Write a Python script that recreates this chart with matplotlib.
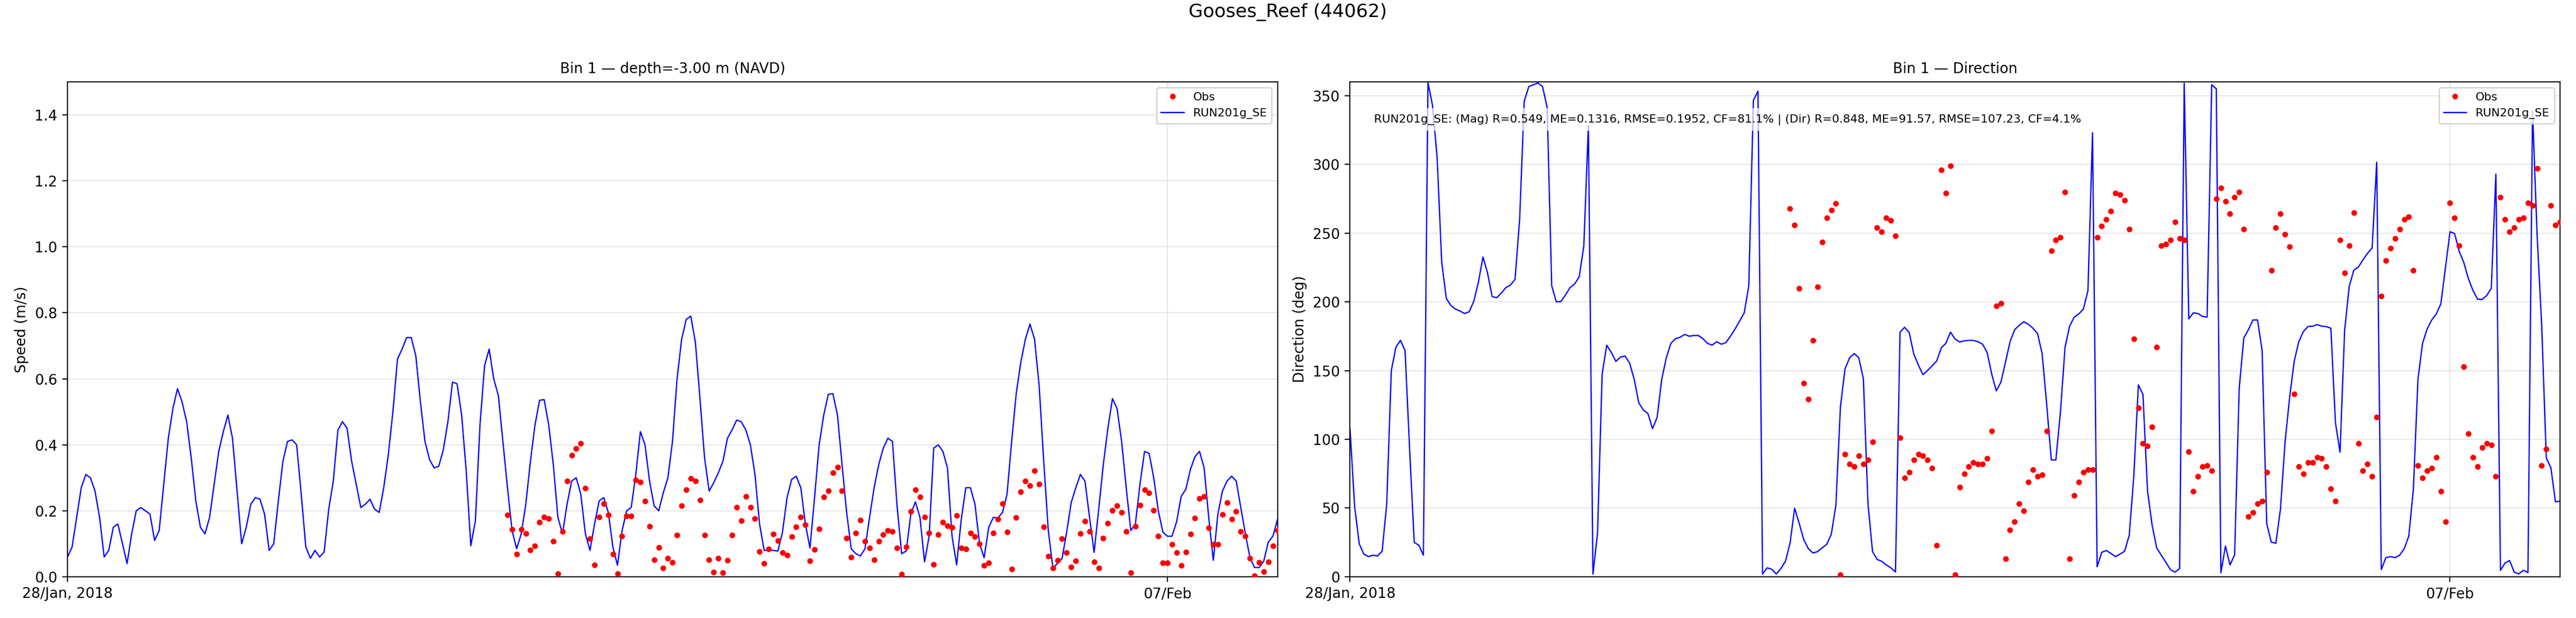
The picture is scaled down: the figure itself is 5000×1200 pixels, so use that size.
import pandas as pd
import matplotlib
matplotlib.use('Agg')
import matplotlib.pyplot as plt


station = 'Gooses_Reef (44062)'
model_name = 'RUN201g_SE'
model_start = '2018-01-28 00:00'
obs_start = '2018-02-01 00:00'
xlim_dates = ['2018-01-28', '2018-02-08']
tick_dates = ['2018-01-28', '2018-02-07']
tick_labels = ['28/Jan, 2018', '07/Feb']
stats_text = ('RUN201g_SE: (Mag) R=0.549, ME=0.1316, RMSE=0.1952, CF=81.1% | '
              '(Dir) R=0.848, ME=91.57, RMSE=107.23, CF=4.1%')

# hourly model speed (m/s)
model_speed = [
    0.06, 0.09, 0.18, 0.27, 0.31, 0.30, 0.26, 0.18, 0.06, 0.08,
    0.15, 0.16, 0.10, 0.04, 0.13, 0.20, 0.21, 0.20, 0.19, 0.11,
    0.14, 0.28, 0.42, 0.51, 0.57, 0.53, 0.47, 0.36, 0.23, 0.15,
    0.13, 0.18, 0.28, 0.38, 0.44, 0.49, 0.42, 0.26, 0.10, 0.15,
    0.22, 0.24, 0.235, 0.19, 0.08, 0.10, 0.23, 0.35, 0.41, 0.415,
    0.40, 0.25, 0.09, 0.056, 0.08, 0.06, 0.075, 0.205, 0.29, 0.445,
    0.47, 0.45, 0.35, 0.28, 0.21, 0.22, 0.235, 0.205, 0.195, 0.27,
    0.37, 0.50, 0.66, 0.69, 0.725, 0.725, 0.67, 0.53, 0.41, 0.355,
    0.33, 0.335, 0.385, 0.47, 0.59, 0.585, 0.49, 0.32, 0.094, 0.17,
    0.46, 0.64, 0.69, 0.60, 0.55, 0.41, 0.27, 0.14, 0.085, 0.13,
    0.22, 0.35, 0.46, 0.535, 0.537, 0.46, 0.34, 0.18, 0.13, 0.22,
    0.29, 0.30, 0.25, 0.13, 0.08, 0.16, 0.23, 0.24, 0.195, 0.09,
    0.035, 0.14, 0.20, 0.21, 0.31, 0.44, 0.40, 0.29, 0.215, 0.20,
    0.255, 0.30,
    0.41, 0.60, 0.72, 0.78, 0.79, 0.71, 0.54, 0.36, 0.26, 0.285,
    0.315, 0.35, 0.42, 0.445, 0.475, 0.47, 0.445, 0.40, 0.31, 0.16,
    0.08, 0.08, 0.08, 0.078, 0.135, 0.24, 0.295, 0.305, 0.27, 0.16,
    0.087, 0.24, 0.40, 0.49, 0.553, 0.555, 0.49, 0.34, 0.195, 0.085,
    0.07, 0.063, 0.085, 0.18, 0.27, 0.34, 0.39, 0.42, 0.41, 0.215,
    0.07, 0.078, 0.19, 0.227, 0.18, 0.045, 0.123, 0.39, 0.40, 0.38,
    0.33, 0.123, 0.036, 0.173, 0.27, 0.27, 0.22, 0.10, 0.058, 0.15,
    0.18, 0.178, 0.195, 0.25, 0.41, 0.555, 0.65, 0.72, 0.766, 0.72,
    0.58, 0.35, 0.14, 0.027, 0.04, 0.055, 0.135, 0.225, 0.27, 0.31,
    0.29, 0.18, 0.074, 0.205, 0.34, 0.45, 0.54, 0.51, 0.41, 0.27,
    0.14, 0.16, 0.28, 0.38, 0.374, 0.30, 0.20, 0.135, 0.123, 0.123,
    0.167, 0.244, 0.265, 0.325, 0.364, 0.38, 0.33, 0.18, 0.05, 0.19,
    0.26, 0.29, 0.305, 0.29, 0.21, 0.13, 0.058, 0.028, 0.028, 0.047,
    0.105, 0.123, 0.173,
]

# hourly model direction (deg)
model_dir = [
    107, 51, 24, 16.5, 14.7, 15.7, 15.2, 18.6, 53, 150,
    167, 172, 164.5, 92.5, 25, 23, 15.7, 359.5, 342.7, 304.7,
    228.7, 202.5, 197.3, 194.7, 193.3, 191.5, 192.8, 200.4, 214.3, 232.6,
    220.9, 203.8, 203, 206.4, 210.4, 212.2, 216.4, 260, 345.8, 356.6,
    357.9, 359.2, 356.6, 341.4, 211.7, 200, 200.2, 205, 210.4, 213,
    218.2, 240.5, 328.3, 2, 32, 147.5, 168.5, 163.2, 156.7, 159.8,
    160.6, 155.4, 143.6, 126.5, 121.3, 118.7, 107.7, 116, 143.6, 159.3,
    169.8, 173.2, 174.2, 176.3, 175, 175.5, 175.5, 173.2, 169.8, 168.5,
    171, 169.2, 170.3, 175, 180.2, 186, 192, 211.7, 346.6, 353.2,
    2, 6.5, 5.5, 2, 6, 11.3, 24.4, 49.8, 38.8, 27,
    20.4, 17.3, 18.3, 21, 23.6, 31, 51.9, 124, 151.4, 159.3,
    162.4, 159.3, 144, 53.2, 18.3, 12.6, 11.3, 8.6, 6.5, 3.5,
    178,
    181.5, 177.6, 162, 154, 147, 150, 153.5, 157, 166.6, 169.8,
    178, 173, 170.8, 171.6, 172, 171.9, 171, 169.2, 163.2, 147.5,
    135.2, 141.5, 156, 171, 179.7, 182.9, 185.5, 183.7, 180.8, 177,
    162.4, 125.2, 85, 85, 120, 167, 182.3, 188.9, 191.2, 194.7,
    208.3, 323, 7.3, 17.8, 19.1, 17, 14.7, 16.5, 18.6, 30.1,
    72.8, 139.6, 132.6, 62.4, 37.5, 21, 15.7, 10.5, 5.2, 3.4,
    6, 359, 187.6, 192, 191.5, 189.4, 188.9, 357.9, 355, 2.9,
    22.3, 8.6, 16, 137, 173.7, 179.7, 186.8, 186.8, 164.5, 38.8,
    25.2, 24.4, 49.3, 97.7, 130.5, 156.7, 171, 178.4, 182, 182.3,
    183.4, 182.3, 182, 180.8, 112, 90.6, 179, 211.2, 223, 225.3,
    230.5, 235.3, 239.2, 301.5, 5.2, 13.9, 14.7, 13.9, 15.7, 20.4,
    29.6, 63.7, 143.6, 169.8, 180.2, 186.8, 191.2, 198.6, 224.8, 251,
    249.7, 236.6, 228.7, 216.9, 208.3, 202, 201.7, 204.6, 209.8, 292.9,
    4.7, 10, 11.8, 3.4, 2.1, 4.7, 3.1, 338.7, 248.4, 182.9,
    86.5, 79.4, 54.5, 55,
]

# hourly observed speed (m/s), from 01 Feb
obs_speed = [
    0.187, 0.143, 0.069, 0.143, 0.131, 0.081, 0.094, 0.165, 0.181, 0.176,
    0.107, 0.009, 0.137, 0.29, 0.368, 0.389, 0.405, 0.269, 0.115, 0.036,
    0.181, 0.222, 0.187, 0.069, 0.009, 0.123, 0.184, 0.184, 0.293, 0.287,
    0.23, 0.153, 0.052, 0.089, 0.027, 0.056,
    0.044, 0.126, 0.216, 0.263, 0.298, 0.29, 0.233, 0.127, 0.052, 0.014,
    0.056, 0.012, 0.05, 0.127, 0.21, 0.17, 0.244, 0.21, 0.176, 0.077,
    0.04, 0.085, 0.129, 0.109, 0.074, 0.066, 0.122, 0.151, 0.181, 0.158,
    0.048, 0.083, 0.145, 0.242, 0.26, 0.315, 0.333, 0.261, 0.117, 0.06,
    0.133, 0.172, 0.107, 0.087, 0.052, 0.107, 0.128, 0.14, 0.138, 0.087,
    0.008, 0.091, 0.198, 0.263, 0.242, 0.181, 0.132, 0.037, 0.128, 0.165,
    0.154, 0.15, 0.186, 0.087, 0.084, 0.132, 0.121, 0.1, 0.034, 0.042,
    0.132, 0.174, 0.221, 0.135, 0.024, 0.179, 0.258, 0.29, 0.276, 0.322,
    0.281, 0.152, 0.062, 0.026, 0.05, 0.115, 0.074, 0.03, 0.048, 0.131,
    0.168, 0.137, 0.045, 0.027, 0.117, 0.162, 0.202, 0.216, 0.195, 0.137,
    0.013, 0.153, 0.217, 0.264, 0.254, 0.202, 0.123, 0.042, 0.042, 0.098,
    0.074, 0.034, 0.075, 0.129, 0.178, 0.237, 0.244, 0.148, 0.098, 0.098,
    0.189, 0.224, 0.174, 0.198, 0.137, 0.123, 0.056, 0.003, 0.044, 0.016,
    0.045, 0.094, 0.14,
]

# hourly observed direction (deg), from 01 Feb
obs_dir = [
    268, 255.7, 209.9, 141, 129.2, 171.9, 210.9, 243.6, 261, 266.7,
    271.7, 1.3, 89, 82, 80.2, 88, 82, 85.1, 98.2, 253.9,
    251, 261, 259.1, 247.8, 101.1,
    72, 76, 85, 89, 88, 85, 79, 23, 296, 279,
    299, 1.3, 65, 75, 80, 83, 82, 82, 86, 106,
    197, 199, 13, 34, 40, 53, 48, 69, 78, 73,
    74, 106, 237, 245, 247, 280, 13, 59, 69, 76,
    78, 78, 247, 255, 260, 266, 279, 278, 274, 253,
    173, 123, 97, 95, 109, 167, 241, 242, 245, 258,
    246, 245, 91, 62, 73, 80, 81, 77, 275, 283,
    273, 264, 276, 280, 253, 44, 47, 53, 55, 76,
    223, 254, 264, 249, 240, 133, 80, 75, 83, 83,
    87, 86, 80, 64, 55, 245, 221, 241, 265, 97,
    77, 82, 73, 116, 204, 230, 239, 246, 253, 260,
    262, 223, 81, 72, 77, 79, 87, 62, 40, 272,
    261, 241, 153, 104, 87, 80, 94, 97, 96, 73,
    276, 260, 251, 254, 260, 261, 272, 270, 297, 81,
    93, 270, 256, 258,
]

model_time = pd.date_range(model_start, periods=len(model_speed), freq='h')
obs_time = pd.date_range(obs_start, periods=len(obs_speed), freq='h')
xlim = [pd.Timestamp(d) for d in xlim_dates]
ticks = [pd.Timestamp(d) for d in tick_dates]

fig, (ax_spd, ax_dir) = plt.subplots(1, 2, figsize=(25, 6), dpi=200)
fig.subplots_adjust(left=0.0262, right=0.9938, bottom=0.0667, top=0.8675,
                    wspace=0.06)
fig.suptitle(station, fontsize=13, y=0.995, va='top')

# Speed panel
ax_spd.plot(obs_time, obs_speed, 'o', color='red', ms=3, label='Obs', zorder=3)
ax_spd.plot(model_time, model_speed, color='blue', lw=0.9, label=model_name)
ax_spd.set_title('Bin 1 \u2014 depth=-3.00 m (NAVD)', fontsize=10)
ax_spd.set_ylabel('Speed (m/s)')
ax_spd.set_ylim(0, 1.5)

# Direction panel
ax_dir.plot(obs_time, obs_dir, 'o', color='red', ms=3, label='Obs', zorder=3)
ax_dir.plot(model_time, model_dir, color='blue', lw=0.9, label=model_name)
ax_dir.set_title('Bin 1 \u2014 Direction', fontsize=10)
ax_dir.set_ylabel('Direction (deg)')
ax_dir.set_ylim(0, 360)
ax_dir.text(0.02, 0.935, stats_text, transform=ax_dir.transAxes, fontsize=8,
            va='top', bbox=dict(facecolor='white', alpha=0.7, edgecolor='none'))

for ax in (ax_spd, ax_dir):
    ax.set_xlim(xlim)
    ax.set_xticks(ticks)
    ax.set_xticklabels(tick_labels)
    ax.grid(True, alpha=0.3)
    ax.legend(loc='upper right', fontsize=8)

fig.savefig('out.png', dpi=200)
